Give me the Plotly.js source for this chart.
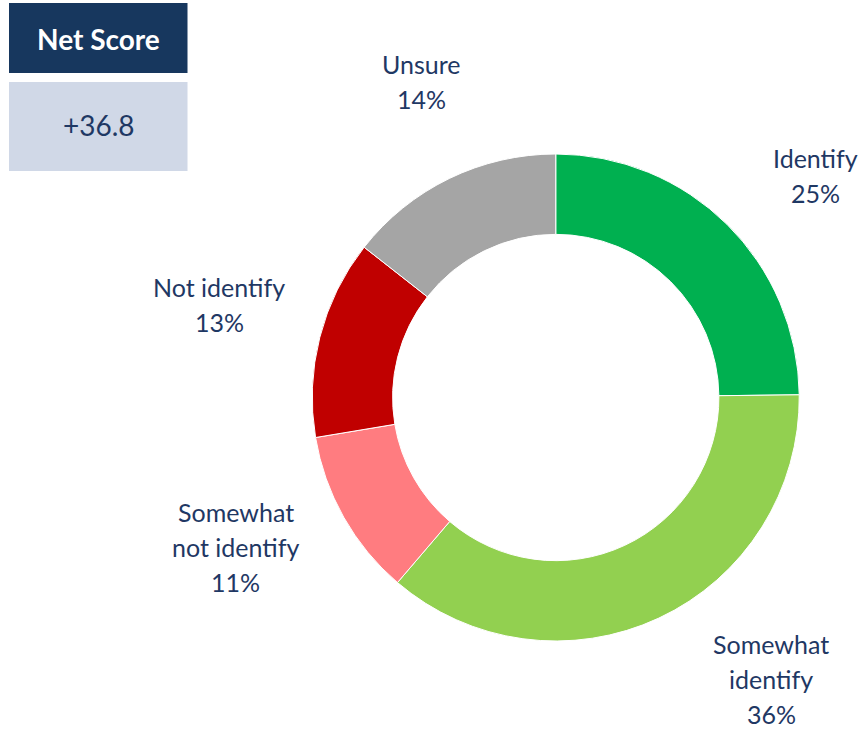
<!DOCTYPE html>
<html>
<head>
<meta charset="utf-8">
<script src="https://cdn.plot.ly/plotly-3.0.1.min.js"></script>
<style>html,body{margin:0;padding:0;background:#fff;}#chart{width:865px;height:731px;}</style>
</head>
<body>
<div id="chart"></div>
<script>
// Data
const categories = ["Identify", "Somewhat identify", "Somewhat not identify", "Not identify", "Unsure"];
const labelLines = [["Identify"], ["Somewhat", "identify"], ["Somewhat", "not identify"], ["Not identify"], ["Unsure"]];
const shares = [24.8, 36.4, 11.1, 13.2, 14.4];
const sliceColors = ["#00B050", "#92D050", "#FF7C80", "#C00000", "#A5A5A5"];
const netScoreTitle = "Net Score";
const netScoreValue = "+36.8";

const W = 865, H = 731;
const px = x => x / W;
const py = y => 1 - y / H;
const textColor = "#1F3864";
const fontFam = "Lato, 'Noto Sans', sans-serif";

const total = shares.reduce((a, b) => a + b, 0);
// label block anchor: center x, first-line center y (layout)
const labelPos = [[815, 158], [771, 644], [236, 512], [219, 287], [421, 64]];
const lineGap = 35;

const annotations = [];
categories.forEach((c, i) => {
  const lines = labelLines[i].concat([Math.round(shares[i] / total * 100) + "%"]);
  lines.forEach((t, j) => {
    annotations.push({
      xref: "paper", yref: "paper",
      x: px(labelPos[i][0]), y: py(labelPos[i][1] + j * lineGap),
      xanchor: "center", yanchor: "middle", align: "center",
      showarrow: false, text: t,
      font: {family: fontFam, size: 25, color: textColor}
    });
  });
});

annotations.push({
  xref: "paper", yref: "paper", x: px(98), y: py(39),
  xanchor: "center", yanchor: "middle", showarrow: false,
  text: "<b>" + netScoreTitle + "</b>",
  font: {family: fontFam, size: 28, color: "#FFFFFF"}
});
annotations.push({
  xref: "paper", yref: "paper", x: px(99), y: py(125),
  xanchor: "center", yanchor: "middle", showarrow: false,
  text: netScoreValue,
  font: {family: fontFam, size: 28, color: textColor}
});

const shapes = [
  {type: "rect", xref: "paper", yref: "paper", x0: px(9), x1: px(187.5), y0: py(73), y1: py(3),
   fillcolor: "#17375E", line: {width: 0}, layer: "below"},
  {type: "rect", xref: "paper", yref: "paper", x0: px(9), x1: px(187.5), y0: py(171), y1: py(82),
   fillcolor: "#D0D8E7", line: {width: 0}, layer: "below"}
];

const trace = {
  type: "pie",
  labels: categories,
  values: shares,
  hole: 0.67,
  sort: false,
  direction: "clockwise",
  rotation: 0,
  textinfo: "none",
  hoverinfo: "label+percent",
  marker: {colors: sliceColors, line: {color: "#FFFFFF", width: 1}},
  domain: {x: [px(312), px(799.5)], y: [py(641), py(154)]},
  showlegend: false
};

const layout = {
  width: W, height: H,
  margin: {l: 0, r: 0, t: 0, b: 0},
  paper_bgcolor: "#FFFFFF",
  showlegend: false,
  annotations: annotations,
  shapes: shapes
};

Plotly.newPlot("chart", [trace], layout, {displayModeBar: false, staticPlot: true});
</script>
</body>
</html>
